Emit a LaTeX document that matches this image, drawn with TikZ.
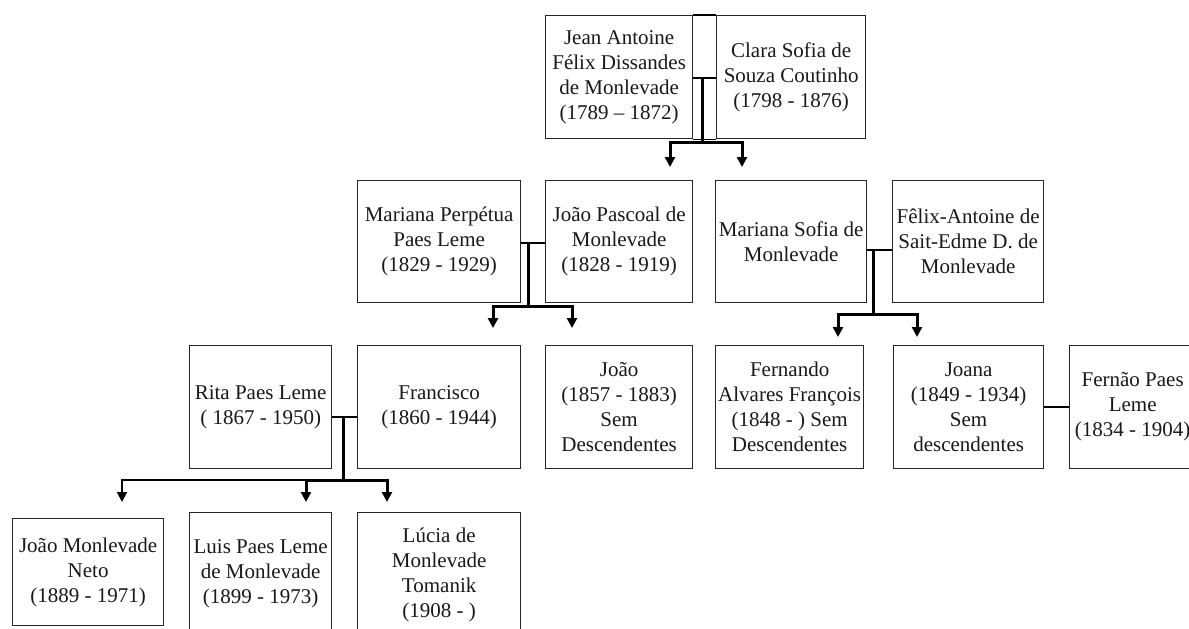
\documentclass[tikz,border=0pt]{standalone}
\usepackage{fontspec}
\setmainfont{Liberation Serif}
\usetikzlibrary{arrows.meta}
\newcommand{\boxfont}{\fontsize{21}{25}\selectfont}
\tikzset{
  person/.style={draw=black!85, line width=1.3pt, inner sep=0pt, anchor=north west,
    align=center, font=\boxfont, text=black!90},
  thinline/.style={draw=black, line width=1.3pt},
  thickline/.style={draw=black, line width=3pt},
  midline/.style={draw=black, line width=2pt},
  kidarrow/.style={-{Triangle[width=10pt,length=10pt]}},
}
\begin{document}
\begin{tikzpicture}[x=1pt,y=-1pt]
\useasboundingbox[fill=white] (0,0) rectangle (1189,629);
\begin{scope}
\clip (0,0) rectangle (1189,629);
% Row 1
\node[person, minimum width=147pt, minimum height=123pt] (jean) at (545,15)
  {Jean Antoine\\Félix Dissandes\\de Monlevade\\(1789 – 1872)};
\node[person, minimum width=149pt, minimum height=123pt] (clara) at (716,15)
  {Clara Sofia de\\Souza Coutinho\\(1798 - 1876)};
% Row 2
\node[person, minimum width=163pt, minimum height=122pt] (marp) at (357,180)
  {Mariana Perpétua\\Paes Leme\\(1829 - 1929)};
\node[person, minimum width=147pt, minimum height=122pt] (joaop) at (545,180)
  {João Pascoal de\\Monlevade\\(1828 - 1919)};
\node[person, minimum width=151pt, minimum height=122pt] (mars) at (715,180)
  {Mariana Sofia de\\Monlevade};
\node[person, minimum width=151pt, minimum height=122pt] (felix) at (892,180)
  {Fêlix-Antoine de\\Sait-Edme D. de\\Monlevade};
% Row 3
\node[person, minimum width=142pt, minimum height=123pt] (rita) at (189,345)
  {Rita Paes Leme\\( 1867 - 1950)};
\node[person, minimum width=163pt, minimum height=123pt] (fran) at (357,345)
  {Francisco\\(1860 - 1944)};
\node[person, minimum width=147pt, minimum height=123pt] (joao) at (545,345)
  {João\\(1857 - 1883)\\Sem\\Descendentes};
\node[person, minimum width=148pt, minimum height=123pt] (fern) at (715,345)
  {Fernando\\Alvares François\\(1848 - ) Sem\\Descendentes};
\node[person, minimum width=150pt, minimum height=123pt] (joana) at (893,345)
  {Joana\\(1849 - 1934)\\Sem\\descendentes};
\node[person, minimum width=126pt, minimum height=123pt] (fernao) at (1069,345)
  {Fernão Paes\\Leme\\(1834 - 1904)};
% Row 4
\node[person, minimum width=151pt, minimum height=107pt] (neto) at (12,518)
  {João Monlevade\\Neto\\(1889 - 1971)};
\node[person, minimum width=142pt, minimum height=122pt] (luis) at (189,512)
  {Luis Paes Leme\\de Monlevade\\(1899 - 1973)};
\node[person, minimum width=163pt, minimum height=124pt] (lucia) at (357,512)
  {Lúcia de\\Monlevade\\Tomanik\\(1908 - )};

% Coordinates
\coordinate (m1) at (702,78);
\coordinate (j1) at (702,142);
\coordinate (a1) at (670,167);
\coordinate (b1) at (742,167);
\coordinate (m2) at (528,243);
\coordinate (j2) at (528,306);
\coordinate (a2) at (493,328);
\coordinate (b2) at (572,328);
\coordinate (m2b) at (873,250);
\coordinate (j2b) at (873,314);
\coordinate (a2b) at (838,337);
\coordinate (b2b) at (917,337);
\coordinate (m3) at (343,417);
\coordinate (j3) at (343,480);
\coordinate (a3) at (122,502);
\coordinate (b3) at (306,502);
\coordinate (c3) at (387,502);
\coordinate (m4) at (1056,407);

% Row 1 couple
\draw[thinline] (jean.north east) -- (clara.north west);
\draw[thinline] (jean.south east) -- (clara.south west);
\draw[thinline] (jean.east |- m1) -- (clara.west |- m1);
\draw[thickline] (m1) -- (j1);
\draw[thickline, kidarrow] (j1) -| (a1);
\draw[thickline, kidarrow] (j1) -| (b1);

% Row 2 left couple
\draw[thinline] (marp.east |- m2) -- (joaop.west |- m2);
\draw[thickline] (m2) -- (j2);
\draw[thickline, kidarrow] (j2) -| (a2);
\draw[thickline, kidarrow] (j2) -| (b2);

% Row 2 right couple
\draw[thinline] (mars.east |- m2b) -- (felix.west |- m2b);
\draw[thickline] (m2b) -- (j2b);
\draw[thickline, kidarrow] (j2b) -| (a2b);
\draw[thickline, kidarrow] (j2b) -| (b2b);

% Row 3 couples
\draw[thinline] (rita.east |- m3) -- (fran.west |- m3);
\draw[thickline] (m3) -- (j3);
\draw[thickline, kidarrow] (j3) -| (b3);
\draw[thickline, kidarrow] (j3) -| (c3);
\draw[midline, kidarrow] (b3 |- j3) -| (a3);
\draw[thinline] (joana.east |- m4) -- (fernao.west |- m4);
\end{scope}
\end{tikzpicture}
\end{document}
